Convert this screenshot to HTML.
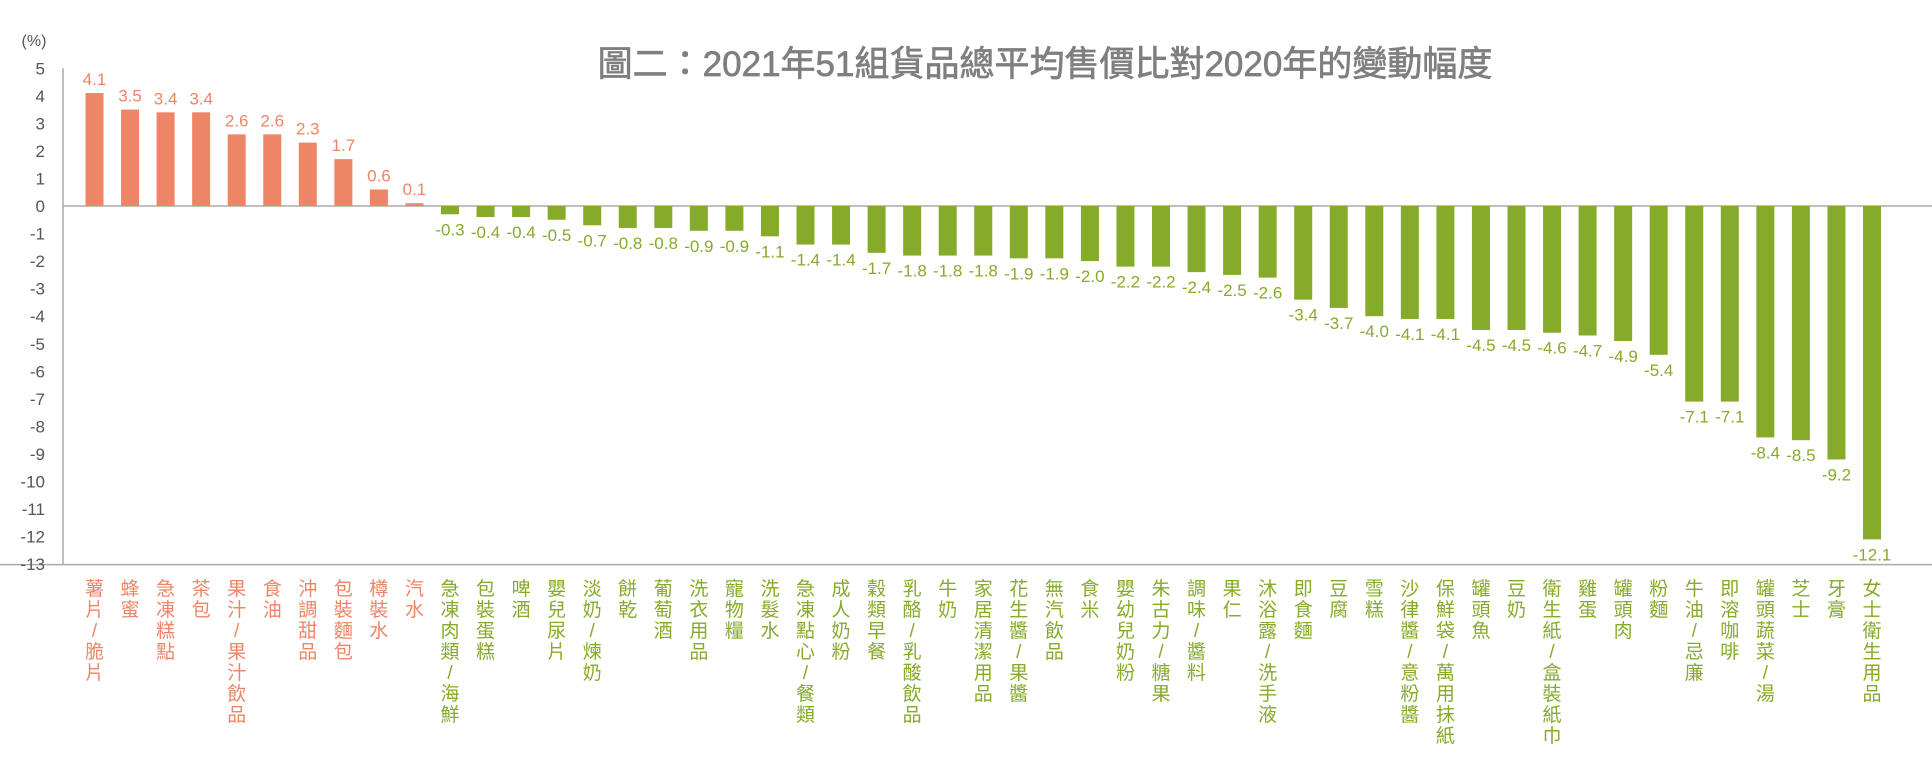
<!DOCTYPE html>
<html><head><meta charset="utf-8"><style>
html,body{margin:0;padding:0;background:#fff;width:1932px;height:765px;overflow:hidden}
svg{display:block;font-family:"Liberation Sans","Noto Sans CJK TC",sans-serif}
</style></head><body>
<svg id="chart" width="1932" height="765" viewBox="0 0 1932 765">
<text x="1045" y="76" text-anchor="middle" font-size="35" fill="#7f7f7f" stroke="#7f7f7f" stroke-width="0.7" font-family="'Liberation Sans','Noto Sans CJK TC',sans-serif">圖二：2021年51組貨品總平均售價比對2020年的變動幅度</text>
<text x="34" y="46" text-anchor="middle" font-size="16" fill="#555">(%)</text>
<g id="axes"></g><g id="bars"></g><g id="labels"></g>
</svg>
<script>
const categories=["薯片/脆片","蜂蜜","急凍糕點","茶包","果汁/果汁飲品","食油","沖調甜品","包裝麵包","樽裝水","汽水","急凍肉類/海鮮","包裝蛋糕","啤酒","嬰兒尿片","淡奶/煉奶","餅乾","葡萄酒","洗衣用品","寵物糧","洗髮水","急凍點心/餐類","成人奶粉","穀類早餐","乳酪/乳酸飲品","牛奶","家居清潔用品","花生醬/果醬","無汽飲品","食米","嬰幼兒奶粉","朱古力/糖果","調味/醬料","果仁","沐浴露/洗手液","即食麵","豆腐","雪糕","沙律醬/意粉醬","保鮮袋/萬用抹紙","罐頭魚","豆奶","衛生紙/盒裝紙巾","雞蛋","罐頭肉","粉麵","牛油/忌廉","即溶咖啡","罐頭蔬菜/湯","芝士","牙膏","女士衛生用品"];
const values=[4.1,3.5,3.4,3.4,2.6,2.6,2.3,1.7,0.6,0.1,-0.3,-0.4,-0.4,-0.5,-0.7,-0.8,-0.8,-0.9,-0.9,-1.1,-1.4,-1.4,-1.7,-1.8,-1.8,-1.8,-1.9,-1.9,-2.0,-2.2,-2.2,-2.4,-2.5,-2.6,-3.4,-3.7,-4.0,-4.1,-4.1,-4.5,-4.5,-4.6,-4.7,-4.9,-5.4,-7.1,-7.1,-8.4,-8.5,-9.2,-12.1];
const yTicks=[5,4,3,2,1,0,-1,-2,-3,-4,-5,-6,-7,-8,-9,-10,-11,-12,-13];
const NS="http://www.w3.org/2000/svg";
const y0=206,unit=27.55,x0=94.5,step=35.55,bw=18;
function yScale(v){return y0-v*unit;}
function xScale(i){return x0+i*step;}
function mk(t,a,p){const e=document.createElementNS(NS,t);for(const k in a)e.setAttribute(k,a[k]);p.appendChild(e);return e;}
const axes=document.getElementById('axes'),bars=document.getElementById('bars'),labels=document.getElementById('labels');
const ya=mk('line',{x1:63,x2:63,y1:yScale(5),y2:yScale(-13),stroke:'#aaa','stroke-width':1.5},axes);


const za=mk('line',{x1:63,x2:1932,y1:yScale(0),y2:yScale(0),stroke:'#aaa','stroke-width':1.5},axes);


const ba=mk('line',{x1:0,x2:1932,y1:yScale(-13)+0.5,y2:yScale(-13)+0.5,stroke:'#aaa','stroke-width':1.5},axes);


yTicks.forEach(t=>{const e=mk('text',{x:45,y:yScale(t)+6,'text-anchor':'end','font-size':17,fill:'#555'},axes);e.textContent=t;

});
values.forEach((v,i)=>{
 const col=v>=0?'#ee8566':'#86ab2a';
 const cx=xScale(i);
 const r=mk('rect',{x:cx-bw/2,y:Math.min(yScale(v),y0),width:bw,height:Math.abs(yScale(v)-y0),fill:col},bars);
 
 
 const ly=v>=0?yScale(v)-8:yScale(v)+21;
 const lt=mk('text',{x:cx,y:ly,'text-anchor':'middle','font-size':17,fill:col},labels);
 lt.textContent=v.toFixed(1);
 
 
 const g=mk('g',{},labels);
 
 
 [...categories[i]].forEach((c,j)=>{
  const t=mk('text',{x:cx,y:595+j*21,'text-anchor':'middle','font-size':19,fill:col},g);
  t.textContent=c;
 });
});
</script>
</body></html>
